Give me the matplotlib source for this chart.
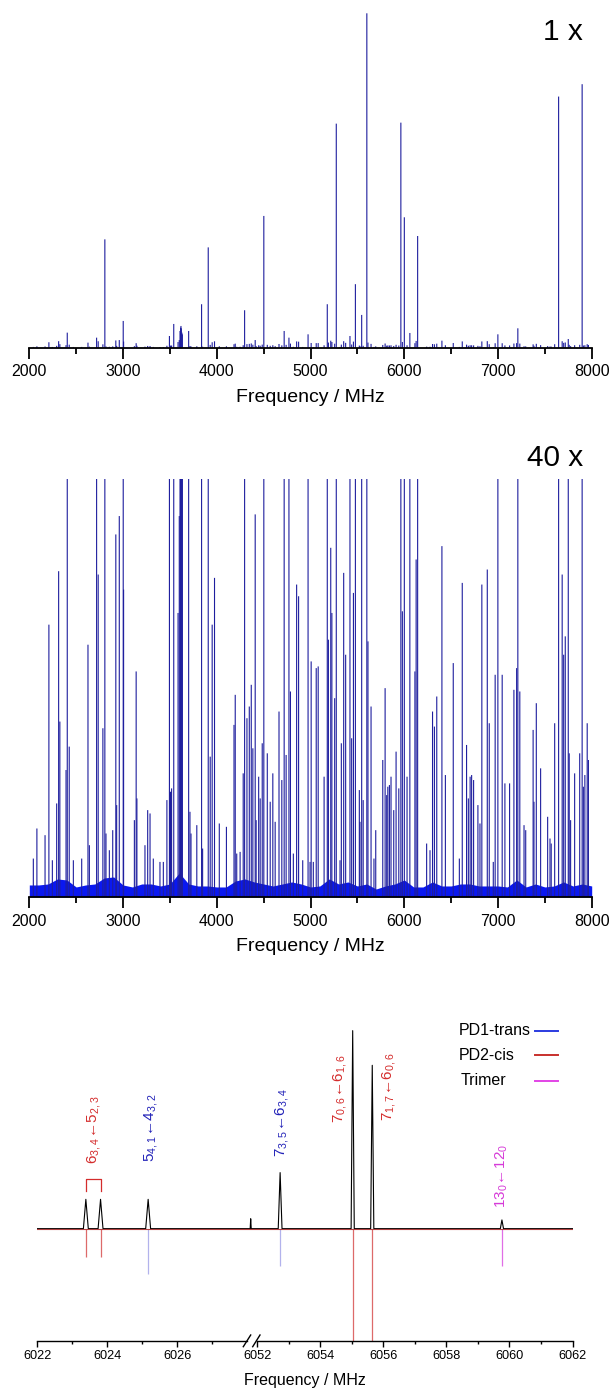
import numpy as np
import matplotlib
matplotlib.use("Agg")
import matplotlib.pyplot as plt
from matplotlib.lines import Line2D
from matplotlib.ticker import MultipleLocator

plt.rcParams["font.family"] = ["Liberation Sans", "DejaVu Sans"]
plt.rcParams["mathtext.fontset"] = "custom"
plt.rcParams["mathtext.rm"] = "Liberation Sans"
plt.rcParams["mathtext.it"] = "Liberation Sans:italic"
plt.rcParams["mathtext.bf"] = "Liberation Sans:bold"

# ---------------------------
# SURVEY SPECTRUM (2-8 GHz), intensity: strongest line = 1
# ---------------------------
line_freq = [
    2043, 2081, 2168, 2209, 2246, 2292, 2313, 2326, 2392, 2405, 2426, 2470,
    2559, 2626, 2641, 2718, 2735, 2785, 2806, 2818, 2854, 2890, 2923, 2932, 2960,
    3002, 3006, 3121, 3140, 3148, 3234, 3263, 3288, 3323, 3394, 3430, 3468,
    3495, 3507, 3518, 3541, 3587, 3600, 3608, 3614, 3618, 3622, 3628, 3633,
    3700, 3714, 3725, 3787, 3838, 3849, 3909, 3930, 3951, 3976,
    4027, 4103, 4184, 4197, 4213, 4249, 4282, 4297, 4322, 4347, 4368, 4385,
    4410, 4420, 4447, 4463, 4485, 4502, 4539, 4570, 4598, 4623, 4664, 4694,
    4719, 4740, 4770, 4786, 4817, 4852, 4873, 4917, 4974, 4995,
    5007, 5030, 5061, 5082, 5145, 5179, 5191, 5216, 5228, 5258, 5275, 5315,
    5329, 5354, 5375, 5421, 5439, 5458, 5479, 5521, 5528, 5546, 5562, 5601,
    5613, 5646, 5677, 5696, 5771, 5796, 5813, 5825, 5842, 5859, 5888, 5913,
    5942, 5964, 5980,
    6001, 6030, 6060, 6114, 6127, 6143, 6239, 6275, 6302, 6322, 6347, 6402,
    6439, 6523, 6588, 6619, 6665, 6684, 6703, 6719, 6740, 6786, 6808, 6828,
    6886, 6907, 6950, 6970, 6999,
    7045, 7074, 7124, 7170, 7199, 7212, 7233, 7278, 7296, 7375, 7384, 7409,
    7455, 7530, 7555, 7568, 7605, 7647, 7685, 7701, 7718, 7750, 7760, 7775,
    7818, 7872, 7898, 7911, 7927, 7952, 7965,
]
line_int = [
    0.0023, 0.0041, 0.0037, 0.0163, 0.0022, 0.0056, 0.0195, 0.0105, 0.0076, 0.045, 0.0090, 0.0022,
    0.0023, 0.0151, 0.0031, 0.030, 0.0193, 0.0101, 0.324, 0.0038, 0.0028, 0.0040, 0.0217, 0.0055, 0.0228,
    0.080, 0.0184, 0.0046, 0.0135, 0.0059, 0.0031, 0.0052, 0.0050, 0.0023, 0.0021, 0.0021, 0.0058,
    0.035, 0.0063, 0.0065, 0.071, 0.0170, 0.0228, 0.050, 0.060, 0.065, 0.058, 0.045, 0.040,
    0.050, 0.0051, 0.0038, 0.0043, 0.130, 0.0029, 0.300, 0.0084, 0.0163, 0.0191,
    0.0044, 0.0042, 0.0103, 0.0121, 0.0026, 0.0027, 0.0074, 0.112, 0.0107, 0.0114, 0.0127, 0.0089,
    0.0229, 0.0046, 0.0072, 0.0059, 0.0092, 0.394, 0.0086, 0.0057, 0.0074, 0.0045, 0.0111, 0.0070,
    0.050, 0.0085, 0.030, 0.0123, 0.0026, 0.0187, 0.0180, 0.0022, 0.040, 0.0021,
    0.0141, 0.0021, 0.0137, 0.0138, 0.0072, 0.130, 0.0154, 0.0209, 0.0170, 0.0119, 0.670, 0.0022,
    0.0092, 0.0194, 0.0145, 0.035, 0.0095, 0.0182, 0.190, 0.0064, 0.0045, 0.098, 0.0058, 1.000,
    0.0153, 0.0114, 0.0023, 0.0040, 0.0082, 0.0125, 0.0061, 0.0066, 0.0067, 0.0072, 0.0052, 0.0087,
    0.0065, 0.673, 0.0171,
    0.390, 0.0072, 0.044, 0.0135, 0.0202, 0.334, 0.0032, 0.0028, 0.0111, 0.0102, 0.0120, 0.0210,
    0.0073, 0.0140, 0.0023, 0.0188, 0.0091, 0.0059, 0.0072, 0.0073, 0.0070, 0.0055, 0.0044, 0.0187,
    0.0196, 0.0104, 0.0021, 0.0133, 0.040,
    0.0133, 0.0068, 0.0068, 0.0124, 0.0137, 0.058, 0.0123, 0.0043, 0.0040, 0.0100, 0.0057, 0.0116,
    0.0077, 0.0048, 0.0035, 0.0032, 0.0104, 0.751, 0.0193, 0.0145, 0.0156, 0.026, 0.0086, 0.0046,
    0.0074, 0.0086, 0.788, 0.0066, 0.0073, 0.0104, 0.0082,
]

# dense noise floor (visible only in the 40x view), one value per 100 MHz
floor_freq = list(range(2000, 8001, 100))
floor_int = [
    0.00072, 0.00072, 0.00078, 0.00108, 0.00102, 0.00060, 0.00072, 0.00078, 0.00114, 0.00120,
    0.00072, 0.00060, 0.00078, 0.00078, 0.00066, 0.00078, 0.00144, 0.00078, 0.00066, 0.00066,
    0.00060, 0.00060, 0.00096, 0.00108, 0.00090, 0.00078, 0.00066, 0.00078, 0.00090, 0.00078,
    0.00060, 0.00066, 0.00108, 0.00078, 0.00090, 0.00066, 0.00078, 0.00048, 0.00066, 0.00078,
    0.00102, 0.00060, 0.00060, 0.00090, 0.00066, 0.00066, 0.00078, 0.00078, 0.00066, 0.00066,
    0.00066, 0.00060, 0.00102, 0.00060, 0.00078, 0.00060, 0.00066, 0.00090, 0.00066, 0.00078,
    0.00066,
]

# ---------------------------
# ZOOMED REGION (experimental trace + predicted sticks)
# ---------------------------
peak_freq = [6023.39, 6023.81, 6025.17, 6028.10, 6052.73, 6055.03, 6055.65, 6059.76]
peak_height = [0.148, 0.148, 0.148, 0.05, 0.283, 1.0, 0.825, 0.044]
peak_hw = [0.07, 0.07, 0.07, 0.015, 0.06, 0.05, 0.05, 0.05]

stick_freq = [6023.39, 6023.81, 6025.17, 6052.73, 6055.03, 6055.65, 6059.76]
stick_int = [-0.145, -0.141, -0.227, -0.187, -0.95, -0.85, -0.187]
stick_species = ["PD2-cis", "PD2-cis", "PD1-trans", "PD1-trans", "PD2-cis", "PD2-cis", "Trimer"]

label_text = [
    r"$6_{3,4}\!\leftarrow\!5_{2,3}$",
    r"$5_{4,1}\!\leftarrow\!4_{3,2}$",
    r"$7_{3,5}\!\leftarrow\!6_{3,4}$",
    r"$7_{0,6}\!\leftarrow\!6_{1,6}$",
    r"$7_{1,7}\!\leftarrow\!6_{0,6}$",
    r"$13_{0}\!\leftarrow\!12_{0}$",
]
label_freq = [6023.62, 6025.24, 6052.78, 6054.64, 6056.19, 6059.76]
label_y = [0.327, 0.338, 0.36, 0.535, 0.545, 0.103]
label_species = ["PD2-cis", "PD1-trans", "PD1-trans", "PD2-cis", "PD2-cis", "Trimer"]

species = ["PD1-trans", "PD2-cis", "Trimer"]
legend_color = {"PD1-trans": "#2b3be0", "PD2-cis": "#c8302c", "Trimer": "#e244e6"}
stick_color = {"PD1-trans": "#b2b2ec", "PD2-cis": "#dd6a6a", "Trimer": "#e06ee6"}
text_color = {"PD1-trans": "#2222b8", "PD2-cis": "#d42c2c", "Trimer": "#d63ad8"}

# ---------------------------
# FIGURE
# ---------------------------
W, H = 613, 1390
fig = plt.figure(figsize=(W / 100, H / 100), dpi=100)


def px_axes(x0, x1, ytop, ybot):
    return fig.add_axes([x0 / W, 1 - ybot / H, (x1 - x0) / W, (ybot - ytop) / H])


def survey(ax, ymax, tag, tag_y):
    ax.fill_between(floor_freq, 0, floor_int, color="#0a18f0", lw=0, zorder=1)
    ax.vlines(line_freq, 0, line_int, colors="#1e1e9e", lw=0.8, snap=False, zorder=2)
    ax.set_xlim(2000, 8000)
    ax.set_ylim(0, ymax)
    for s in ["left", "right", "top"]:
        ax.spines[s].set_visible(False)
    ax.spines["bottom"].set_linewidth(1.3)
    ax.set_yticks([])
    ax.xaxis.set_major_locator(MultipleLocator(1000))
    ax.xaxis.set_minor_locator(MultipleLocator(500))
    ax.tick_params(axis="x", which="major", length=8, width=1.3, labelsize=11.5, pad=4)
    ax.tick_params(axis="x", which="minor", length=4.5, width=1.3)
    ax.set_xlabel("Frequency / MHz", fontsize=14, labelpad=7)
    ax.text(0.985, tag_y, tag, transform=ax.transAxes, ha="right", va="top", fontsize=21.5)


ax1 = px_axes(29.3, 591.7, 13.3, 347.7)
survey(ax1, 1.0, "1 x", 0.985)

ax2 = px_axes(29.3, 591.7, 479.3, 897.0)
survey(ax2, 0.025, "40 x", 1.085)

# ---------------------------
# BROKEN-AXIS ZOOM PANEL
# ---------------------------
axl = px_axes(37.2, 252.2, 1015, 1340.7)
axr = px_axes(252.2, 572.6, 1015, 1340.7)
axl.set_xlim(6022, 6028.143)
axr.set_xlim(6051.845, 6062)

trace_x = [6022.0]
trace_y = [0.0]
for f, h, w in zip(peak_freq, peak_height, peak_hw):
    trace_x += [f - w, f, f + w]
    trace_y += [0.0, h, 0.0]
trace_x.append(6062.0)
trace_y.append(0.0)

for ax in (axl, axr):
    lo, hi = ax.get_xlim()
    ax.plot(trace_x, trace_y, color="black", lw=0.8, zorder=3)
    ax.axhline(0, color="#b04040", lw=0.8, zorder=4)
    for f, v, sp in zip(stick_freq, stick_int, stick_species):
        ax.vlines(f, v, 0, colors=stick_color[sp], lw=0.9, zorder=2)
    for txt, f, y, sp in zip(label_text, label_freq, label_y, label_species):
        if lo <= f <= hi:
            ax.text(f, y, txt, rotation=90, ha="center", va="bottom",
                    fontsize=11, color=text_color[sp])
    ax.set_ylim(-0.566, 1.079)
    for s in ["left", "right", "top"]:
        ax.spines[s].set_visible(False)
    ax.spines["bottom"].set_linewidth(1.0)
    ax.set_yticks([])
    ax.tick_params(axis="x", which="major", length=4, width=1.0, labelsize=9.2, pad=3)
    ax.tick_params(axis="x", which="minor", length=2.3, width=1.0)

axl.set_xticks([6022, 6024, 6026])
axl.set_xticks([6023, 6025, 6027], minor=True)
axl.spines["bottom"].set_bounds(6022, 6028)

axr.set_xticks([6052, 6054, 6056, 6058, 6060, 6062])
axr.set_xticks([6053, 6055, 6057, 6059, 6061], minor=True)
axr.spines["bottom"].set_bounds(6052, 6062)

# bracket over the 6(3,4)-5(2,3) doublet
axl.plot([peak_freq[0], peak_freq[0], peak_freq[1], peak_freq[1]],
         [0.19, 0.25, 0.25, 0.19], color=text_color["PD2-cis"], lw=0.9)

# axis-break marks
for x0, x1 in [(243.3, 250.7), (252.7, 260.0)]:
    fig.add_artist(Line2D([x0 / W, x1 / W], [1 - 1346.7 / H, 1 - 1335.0 / H],
                          transform=fig.transFigure, color="black", lw=1.0))

fig.text(305 / W, 1 - 1380 / H, "Frequency / MHz", ha="center", va="center", fontsize=11.5)

# legend: labels left aligned, sample lines in one column on the right
legend_rows = [1030.5, 1055.0, 1080.5]
legend_text_x = [458.3, 458.3, 460.7]
for sp, yrow, xt in zip(species, legend_rows, legend_text_x):
    fig.text(xt / W, 1 - yrow / H, sp, ha="left", va="center", fontsize=11.5)
    fig.add_artist(Line2D([534.5 / W, 558.3 / W], [1 - yrow / H, 1 - yrow / H],
                          transform=fig.transFigure, color=legend_color[sp], lw=1.4))

fig.savefig("out.png", dpi=100)
